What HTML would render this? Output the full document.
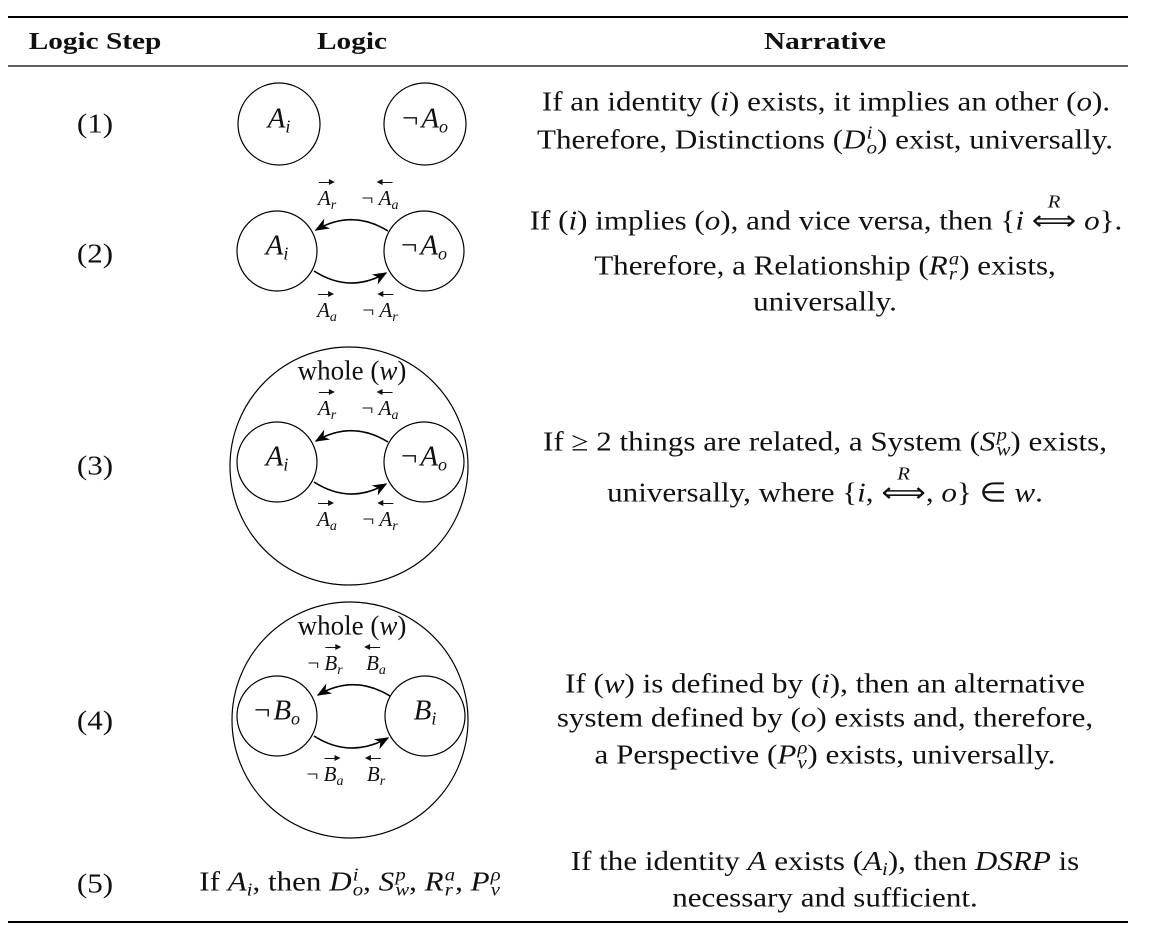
<!DOCTYPE html>
<html><head><meta charset="utf-8"><style>
body{margin:0;width:1161px;height:937px;background:#fff;position:relative;overflow:hidden;font-family:"Liberation Serif",serif;color:#111}
.t{position:absolute;white-space:nowrap;transform:translate(-50%,-50%) scaleX(1.15);font-size:27px;line-height:1}
.h{font-weight:bold;font-size:24px;transform:translate(-50%,-50%) scaleX(1.22)}
.w{transform:translate(-50%,-50%) scaleX(1.0)}
i{font-style:italic}
.ss{display:inline-flex;flex-direction:column;vertical-align:middle;font-size:18px;line-height:15px;font-style:italic;margin-left:1px;position:relative;top:-2px}
sub{font-size:18px;font-style:italic;vertical-align:-5px}
.lb{position:absolute;transform:translate(-50%,-50%);font-size:21px;white-space:nowrap}
.ov{position:relative;display:inline-block;font-style:italic}
.ov b{position:absolute;left:1px;top:-4px;width:13px;height:1.3px;background:#111}
.ov b::after{content:"";position:absolute;top:-3px;border:3.5px solid transparent}
.ov b.r::after{right:-3px;border-left:6px solid #111;border-right:0}
.ov b.l::after{left:-3px;border-right:6px solid #111;border-left:0}
.lb sub{font-size:14px;vertical-align:-4px}
.c{font-size:29px;transform:translate(-50%,-50%)}
.n{margin-right:3px}
svg{position:absolute;left:0;top:0}
</style></head><body>
<svg width="1161" height="937">
<defs><marker id="ar" viewBox="0 0 10 10" refX="9" refY="5" markerWidth="9" markerHeight="9" orient="auto"><path d="M0,1 L10,5 L0,9 L3,5 z" fill="#000"/></marker></defs>
<line x1="8" y1="17" x2="1128" y2="17" stroke="#000" stroke-width="2"/>
<line x1="8" y1="66" x2="1128" y2="66" stroke="#000" stroke-width="1.2"/>
<line x1="8" y1="922" x2="1128" y2="922" stroke="#000" stroke-width="2"/>
<g fill="none" stroke="#000" stroke-width="1.2">
<circle cx="279" cy="124" r="41"/><circle cx="425" cy="124" r="41"/>
<circle cx="277" cy="251" r="40"/><circle cx="424" cy="251" r="40"/>
<circle cx="349" cy="466" r="119"/><circle cx="277" cy="462" r="40"/><circle cx="424" cy="462" r="40"/>
<circle cx="350" cy="720" r="118"/><circle cx="277" cy="716" r="40"/><circle cx="425" cy="716" r="40"/>
</g>
<g fill="none" stroke="#000" stroke-width="1.6" marker-end="url(#ar)">
<path d="M388,231 Q352,209 316,230"/><path d="M314,271 Q350,294 386,273"/>
<path d="M388,442 Q352,420 316,441"/><path d="M314,482 Q350,505 386,484"/>
<path d="M390,696 Q354,674 318,695"/><path d="M314,736 Q350,759 388,738"/>
</g>
</svg>
<div class="t h" style="left:95px;top:42px">Logic Step</div>
<div class="t h" style="left:352px;top:42px">Logic</div>
<div class="t h" style="left:825px;top:42px">Narrative</div>

<div class="t" style="left:95px;top:124px">(1)</div>
<div class="t" style="left:95px;top:254px">(2)</div>
<div class="t" style="left:95px;top:466px">(3)</div>
<div class="t" style="left:95px;top:721px">(4)</div>
<div class="t" style="left:95px;top:884px">(5)</div>

<div class="t c" style="left:279px;top:120px"><i>A</i><sub>i</sub></div>
<div class="t c" style="left:425px;top:120px"><span class="n">¬</span><i>A</i><sub>o</sub></div>
<div class="t c" style="left:277px;top:247px"><i>A</i><sub>i</sub></div>
<div class="t c" style="left:424px;top:247px"><span class="n">¬</span><i>A</i><sub>o</sub></div>
<div class="t c" style="left:277px;top:458px"><i>A</i><sub>i</sub></div>
<div class="t c" style="left:424px;top:458px"><span class="n">¬</span><i>A</i><sub>o</sub></div>
<div class="t c" style="left:277px;top:712px"><span class="n">¬</span><i>B</i><sub>o</sub></div>
<div class="t c" style="left:425px;top:712px"><i>B</i><sub>i</sub></div>
<div class="t w" style="left:352px;top:371px">whole (<i>w</i>)</div>
<div class="t w" style="left:352px;top:626px">whole (<i>w</i>)</div>

<div class="lb" style="left:327px;top:200px"><span class="ov"><b class="r"></b>A</span><sub>r</sub></div>
<div class="lb" style="left:380px;top:200px">¬ <span class="ov"><b class="l"></b>A</span><sub>a</sub></div>
<div class="lb" style="left:327px;top:312px"><span class="ov"><b class="r"></b>A</span><sub>a</sub></div>
<div class="lb" style="left:380px;top:312px">¬ <span class="ov"><b class="l"></b>A</span><sub>r</sub></div>
<div class="lb" style="left:327px;top:410px"><span class="ov"><b class="r"></b>A</span><sub>r</sub></div>
<div class="lb" style="left:380px;top:410px">¬ <span class="ov"><b class="l"></b>A</span><sub>a</sub></div>
<div class="lb" style="left:327px;top:521px"><span class="ov"><b class="r"></b>A</span><sub>a</sub></div>
<div class="lb" style="left:380px;top:521px">¬ <span class="ov"><b class="l"></b>A</span><sub>r</sub></div>
<div class="lb" style="left:325px;top:665px">¬ <span class="ov"><b class="r"></b>B</span><sub>r</sub></div>
<div class="lb" style="left:376px;top:665px"><span class="ov"><b class="l"></b>B</span><sub>a</sub></div>
<div class="lb" style="left:325px;top:776px">¬ <span class="ov"><b class="r"></b>B</span><sub>a</sub></div>
<div class="lb" style="left:376px;top:776px"><span class="ov"><b class="l"></b>B</span><sub>r</sub></div>

<div class="t" style="left:350px;top:884px">If <i>A</i><sub>i</sub>, then <i>D</i><span class="ss"><span>i</span><span>o</span></span>, <i>S</i><span class="ss"><span>p</span><span>w</span></span>, <i>R</i><span class="ss"><span>a</span><span>r</span></span>, <i>P</i><span class="ss"><span>ρ</span><span>v</span></span></div>

<div class="t" style="left:826px;top:102px">If an identity (<i>i</i>) exists, it implies an other (<i>o</i>).</div>
<div class="t" style="left:825px;top:142px">Therefore, Distinctions (<i>D</i><span class="ss"><span>i</span><span>o</span></span>) exist, universally.</div>
<div class="t" style="left:826px;top:221px">If (<i>i</i>) implies (<i>o</i>), and vice versa, then {<i>i</i> <span style="position:relative;display:inline-block">⟺<span style="position:absolute;left:50%;top:-15px;transform:translateX(-50%);font-size:18px;font-style:italic">R</span></span> <i>o</i>}.</div>
<div class="t" style="left:825px;top:268px">Therefore, a Relationship (<i>R</i><span class="ss"><span>a</span><span>r</span></span>) exists,</div>
<div class="t" style="left:825px;top:302px">universally.</div>
<div class="t" style="left:825px;top:444px">If ≥ 2 things are related, a System (<i>S</i><span class="ss"><span>p</span><span>w</span></span>) exists,</div>
<div class="t" style="left:825px;top:493px">universally, where {<i>i</i>, <span style="position:relative;display:inline-block">⟺<span style="position:absolute;left:50%;top:-15px;transform:translateX(-50%);font-size:18px;font-style:italic">R</span></span>, <i>o</i>} ∈ <i>w</i>.</div>
<div class="t" style="left:825px;top:684px">If (<i>w</i>) is defined by (<i>i</i>), then an alternative</div>
<div class="t" style="left:825px;top:718px">system defined by (<i>o</i>) exists and, therefore,</div>
<div class="t" style="left:825px;top:757px">a Perspective (<i>P</i><span class="ss"><span>ρ</span><span>v</span></span>) exists, universally.</div>
<div class="t" style="left:825px;top:863px">If the identity <i>A</i> exists (<i>A</i><sub>i</sub>), then <i>DSRP</i> is</div>
<div class="t" style="left:825px;top:898px">necessary and sufficient.</div>
</body></html>
